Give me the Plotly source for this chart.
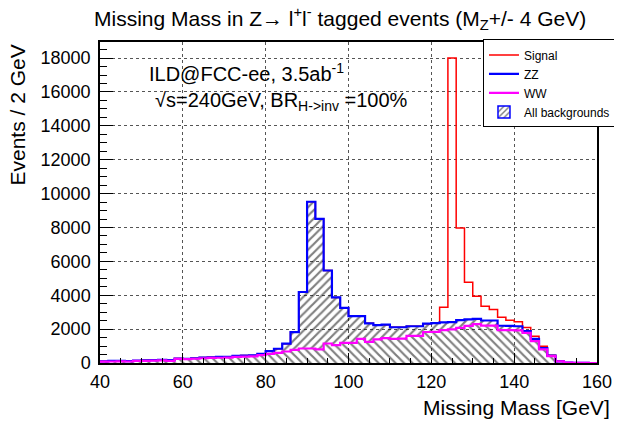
import numpy as np
import plotly.graph_objects as go

# ---- data (2 GeV bins from 40 to 160 GeV) ----
bin_width = 2
bin_lo = list(range(40, 160, bin_width))

ww = [80, 90, 100, 90, 120, 130, 140, 150, 130, 240,
      230, 250, 280, 300, 310, 320, 360, 380, 390, 460,
      540, 600, 680, 775, 855, 855, 800, 1150, 1050, 1190,
      1190, 1420, 1250, 1390, 1470, 1420, 1440, 1600, 1600, 1830,
      1840, 1940, 1980, 2075, 2190, 2290, 2210, 2210, 1940, 1940,
      1930, 1780, 1290, 800, 400, 100, 20, 10, 5, 0]

zz = [20, 40, 20, 20, 20, 30, 30, 40, 40, 20,
      20, 30, 40, 40, 50, 40, 60, 60, 60, 80,
      160, 240, 460, 1045, 3335, 8665, 7710, 4310, 2820, 2070,
      1580, 1350, 1090, 850, 790, 690, 670, 570, 570, 490,
      510, 460, 430, 455, 380, 310, 300, 300, 260, 250,
      240, 100, 140, 85, 30, 0, 0, 0, 0, 0]

signal = [0, 0, 0, 0, 0, 0, 0, 0, 0, 0,
          0, 0, 0, 0, 0, 0, 0, 0, 0, 0,
          0, 0, 0, 0, 0, 0, 0, 0, 0, 0,
          0, 0, 0, 0, 0, 0, 0, 0, 0, 0,
          0, 890, 15590, 5440, 2200, 1340, 840, 650, 500, 340,
          260, 220, 150, 105, 30, 0, 0, 0, 0, 0]

x_ticks = [40, 60, 80, 100, 120, 140, 160]
y_ticks = list(range(0, 20000, 2000))

# ---- stacking ----
ww_a = np.array(ww, dtype=float)
bkg = ww_a + np.array(zz, dtype=float)
tot = bkg + np.array(signal, dtype=float)
edges = list(bin_lo) + [bin_lo[-1] + bin_width]


def step(vals):
    v = list(vals)
    return v + [v[-1]]


FONT = "Liberation Sans, Arial, sans-serif"

fig = go.Figure()

# hatched WW part (\\\)
fig.add_trace(go.Scatter(
    x=edges, y=step(ww_a), mode="lines", line=dict(width=0, shape="hv"),
    fill="tozeroy", fillcolor="rgba(0,0,0,0)",
    fillpattern=dict(shape="\\", size=6, solidity=0.36, fgcolor="black",
                     bgcolor="rgba(0,0,0,0)", fillmode="overlay"),
    showlegend=False, hoverinfo="skip"))
# hatched ZZ part stacked on top (///)
fig.add_trace(go.Scatter(
    x=edges, y=step(bkg), mode="lines", line=dict(width=0, shape="hv"),
    fill="tonexty", fillcolor="rgba(0,0,0,0)",
    fillpattern=dict(shape="/", size=6, solidity=0.36, fgcolor="black",
                     bgcolor="rgba(0,0,0,0)", fillmode="overlay"),
    showlegend=False, hoverinfo="skip"))

fig.add_trace(go.Scatter(x=edges, y=step(tot), mode="lines", name="Signal",
                         line=dict(color="#ff0000", width=1.5, shape="hv")))
fig.add_trace(go.Scatter(x=edges, y=step(bkg), mode="lines", name="ZZ",
                         line=dict(color="#0000ff", width=2.2, shape="hv")))
fig.add_trace(go.Scatter(x=edges, y=step(ww_a), mode="lines", name="WW",
                         line=dict(color="#ff00ff", width=2.2, shape="hv")))
# legend-only entry for the hatched stack
fig.add_trace(go.Bar(
    x=[None], y=[None], name="All backgrounds",
    marker=dict(color="white", line=dict(color="#0000ff", width=1.5),
                pattern=dict(shape="/", size=5, solidity=0.35, fgcolor="black",
                             bgcolor="white", fillmode="overlay"))))

axis_common = dict(
    showline=True, linecolor="black", linewidth=1.5, mirror=True,
    ticks="inside", tickcolor="black", tickwidth=1,
    showgrid=True, gridcolor="#555555", griddash="dot", gridwidth=1,
    zeroline=False,
    tickfont=dict(family=FONT, size=18, color="black"),
)

fig.update_xaxes(range=[40, 160], tickvals=x_ticks, ticklen=10,
                 minor=dict(dtick=5, ticklen=5, ticks="inside", tickcolor="black",
                            showgrid=False),
                 ticklabelstandoff=2, **axis_common)
fig.update_yaxes(range=[0, 18950], tickvals=y_ticks, ticklen=13, tickformat="d",
                 minor=dict(dtick=500, ticklen=7, ticks="inside", tickcolor="black",
                            showgrid=False),
                 ticklabelstandoff=4, **axis_common)

fig.update_layout(
    width=622, height=425,
    margin=dict(l=92, r=33, t=34, b=70, autoexpand=False),
    paper_bgcolor="white", plot_bgcolor="white",
    font=dict(family=FONT, color="black"),
    showlegend=True,
    legend=dict(x=0.7706, y=1.008, xanchor="left", yanchor="top",
                traceorder="normal",
                bgcolor="white", bordercolor="black", borderwidth=1,
                font=dict(family=FONT, size=12, color="black"),
                itemwidth=30, tracegroupgap=0),
    annotations=[
        dict(text="Missing Mass in Z\u2192 l<sup>+</sup>l<sup>-</sup> tagged events (M<sub>Z</sub>+/- 4 GeV)",
             xref="paper", yref="paper", x=0.483, y=1.0717,
             xanchor="center", yanchor="middle", showarrow=False,
             font=dict(family=FONT, size=21)),
        dict(text="Events / 2 GeV", xref="paper", yref="paper",
             x=-0.165, y=1.0, xanchor="center", yanchor="top", textangle=-90,
             showarrow=False, font=dict(family=FONT, size=21)),
        dict(text="Missing Mass [GeV]", xref="paper", yref="paper",
             x=1.03, y=-0.14, xanchor="right", yanchor="middle",
             showarrow=False, font=dict(family=FONT, size=21)),
        dict(text="ILD@FCC-ee, 3.5ab<sup>-1</sup>", xref="paper", yref="paper",
             x=0.094, y=0.905, xanchor="left", yanchor="middle",
             showarrow=False, font=dict(family=FONT, size=20)),
        dict(text="\u221as=240GeV, BR<sub>H->inv</sub> =100%", xref="paper", yref="paper",
             x=0.106, y=0.815, xanchor="left", yanchor="middle",
             showarrow=False, font=dict(family=FONT, size=20)),
    ],
)

fig.write_html("out.html")
